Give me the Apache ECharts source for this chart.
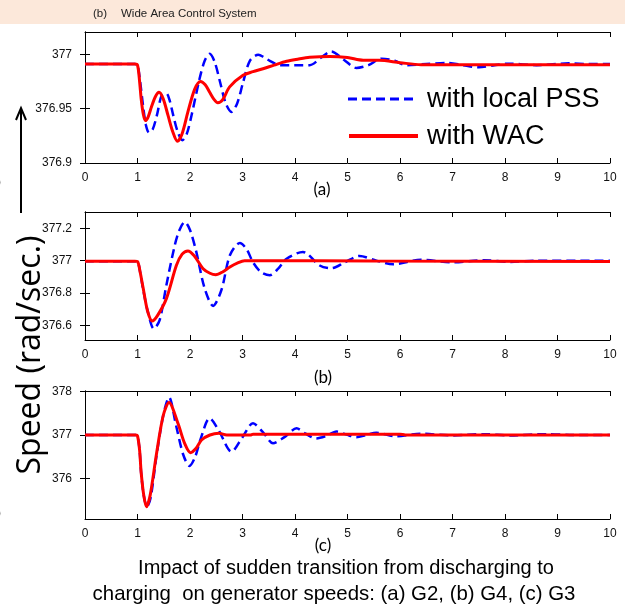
<!DOCTYPE html>
<html><head><meta charset="utf-8">
<script src="https://cdn.jsdelivr.net/npm/echarts@6/dist/echarts.min.js"></script>
<style>html,body{margin:0;padding:0;background:#fff}#c{width:625px;height:613px}</style>
</head><body><div id="c"></div><script>
// ---- tick labels ----
const xTicks = [0,1,2,3,4,5,6,7,8,9,10];
const yTicksA = [376.9, 376.95, 377];
const yTicksB = [376.6, 376.8, 377, 377.2];
const yTicksC = [376, 377, 378];
const seriesNames = ['with local PSS', 'with WAC'];
const panelLabels = ['(a)', '(b)', '(c)'];

// ---- panel (a) G2 ----
const tA_PSS = [0,0.95,1.0,1.05,1.105,1.16,1.22,1.29,1.37,1.46,1.55,1.61,1.68,1.77,1.855,1.94,2.03,2.18,2.28,2.375,2.47,2.57,2.68,2.79,2.9,3.01,3.14,3.3,3.42,3.52,3.71,4.0,4.28,4.5,4.69,4.93,5.17,5.4,5.65,5.9,6.12,6.5,6.9,7.2,7.5,7.8,8.08,8.6,9.22,9.6,10];
const vA_PSS = [376.991,376.991,376.990,376.975,376.953,376.935,376.928,376.931,376.944,376.962,376.964,376.958,376.944,376.928,376.921,376.927,376.944,376.977,376.994,377.0005,376.993,376.975,376.955,376.947,376.955,376.974,376.994,376.9996,376.997,376.994,376.990,376.990,376.990,376.997,377.0027,376.995,376.9874,376.990,376.996,376.994,376.990,376.991,376.992,376.990,376.988,376.990,376.9914,376.990,376.9917,376.991,376.991];
const tA_WAC = [0,0.95,1.0,1.04,1.07,1.11,1.15,1.2,1.265,1.34,1.41,1.49,1.58,1.67,1.76,1.85,1.96,2.09,2.2,2.29,2.375,2.45,2.53,2.62,2.755,3.01,3.2,3.39,3.6,3.84,4.05,4.28,4.66,5.0,5.3,5.6,6.0,6.4,10];
const vA_WAC = [376.991,376.991,376.990,376.975,376.959,376.945,376.939,376.942,376.9515,376.961,376.965,376.959,376.944,376.929,376.920,376.927,376.947,376.968,376.975,376.972,376.965,376.959,376.9554,376.958,376.970,376.9807,376.984,376.9867,376.990,376.9936,376.9955,376.9972,376.998,376.997,376.9945,376.9945,376.9923,376.9904,376.9904];

// ---- panel (b) G4 ----
const tB_PSS = [0,0.95,1.0,1.05,1.105,1.2,1.31,1.42,1.55,1.71,1.80,1.90,2.0,2.12,2.28,2.44,2.6,2.76,2.95,3.08,3.2,3.35,3.52,3.68,3.84,4.15,4.47,4.69,4.95,5.23,5.55,5.87,6.4,7.0,7.6,8.1,8.6,10];
const vB_PSS = [376.997,376.997,376.995,376.93,376.827,376.68,376.579,376.63,376.848,377.095,377.19,377.239,377.19,377.054,376.827,376.72,376.82,377.033,377.109,377.07,376.99,376.93,376.91,376.95,377.012,377.054,376.97,376.953,376.99,377.029,377.0,376.978,377.005,376.99,377.003,376.992,377.0,377.0];
const tB_WAC = [0,0.95,1.0,1.05,1.105,1.19,1.28,1.38,1.55,1.74,1.85,1.96,2.08,2.25,2.38,2.49,2.62,2.76,2.9,3.04,3.2,5.5,10];
const vB_WAC = [376.997,376.997,376.995,376.93,376.835,376.69,376.627,376.66,376.765,376.97,377.04,377.06,377.03,376.95,376.922,376.913,376.93,376.961,376.985,377.0,377.0,376.998,376.995];

// ---- panel (c) G3 ----
const tC_PSS = [0,0.97,1.0,1.04,1.07,1.12,1.18,1.25,1.36,1.49,1.6,1.74,1.87,1.99,2.1,2.2,2.375,2.55,2.79,3.0,3.2,3.4,3.58,3.8,4.03,4.2,4.4,4.6,4.79,4.98,5.17,5.36,5.55,5.92,6.4,7.0,7.6,8.1,8.8,9.3,10];
const vC_PSS = [377.0,377.0,376.98,376.65,376.115,375.6,375.344,375.55,376.5,377.45,377.87,377.19,376.55,376.284,376.5,376.9,377.385,377.1,376.615,376.95,377.27,377.05,376.81,376.95,377.154,377.03,376.92,376.98,377.08,377.01,376.95,377.0,377.05,376.97,377.03,376.99,377.02,376.99,377.02,377.0,377.0];
const tC_WAC = [0,0.97,1.0,1.04,1.07,1.12,1.17,1.24,1.36,1.49,1.6,1.77,1.9,2.01,2.12,2.22,2.38,2.55,2.7,3.15,3.2,6.0,6.1,10];
const vC_WAC = [377.0,377.0,376.98,376.65,376.13,375.6,375.344,375.6,376.55,377.45,377.75,377.27,376.8,376.592,376.7,376.885,377.0,377.04,377.0,377.0,377.02,377.02,377.0,377.0];

const zip = (t, v) => t.map((x, i) => [x, v[i]]);

const panels = [
  {top: 32, height: 131, ymin: 376.9, ymax: 377.0205, ticks: yTicksA, pss: zip(tA_PSS, vA_PSS), wac: zip(tA_WAC, vA_WAC)},
  {top: 212, height: 128, ymin: 376.509, ymax: 377.301, ticks: yTicksB, pss: zip(tB_PSS, vB_PSS), wac: zip(tB_WAC, vB_WAC)},
  {top: 391, height: 128, ymin: 375.06, ymax: 378.016, ticks: yTicksC, pss: zip(tC_PSS, vC_PSS), wac: zip(tC_WAC, vC_WAC)}
];

const FONT = 'Liberation Sans, Arial, sans-serif';
const BLUE = '#0000ff', RED = '#ff0000';
const grid = [], xAxis = [], yAxis = [], series = [];
const lineAx = {show: true, lineStyle: {color: '#000', width: 1}};
panels.forEach((p, i) => {
  grid.push({left: 85, width: 525, top: p.top, height: p.height, containLabel: false});
  const xb = {type: 'value', gridIndex: i, min: 0, max: 10, interval: 1, position: 'bottom',
    axisLine: lineAx, splitLine: {show: false},
    axisTick: {show: true, inside: true, length: 5, lineStyle: {color: '#000'}},
    axisLabel: {show: true, margin: 9, color: '#111', fontSize: 12, fontFamily: FONT,
      customValues: xTicks, formatter: v => String(v)}};
  xAxis.push(xb);
  xAxis.push(Object.assign({}, xb, {position: 'top', axisLabel: {show: false}}));
  const yl = {type: 'value', gridIndex: i, min: p.ymin, max: p.ymax, position: 'left',
    axisLine: lineAx, splitLine: {show: false},
    axisTick: {show: true, inside: true, length: 5, lineStyle: {color: '#000'}, customValues: p.ticks},
    axisLabel: {show: true, margin: 13, color: '#111', fontSize: 12, fontFamily: FONT,
      customValues: p.ticks, formatter: v => String(v)}};
  yAxis.push(yl);
  yAxis.push(Object.assign({}, yl, {position: 'right', axisLabel: {show: false}}));
  series.push({name: seriesNames[0], type: 'line', xAxisIndex: 2*i, yAxisIndex: 2*i, data: p.pss,
    smooth: 0.3, symbol: 'none', showSymbol: false, z: 3,
    lineStyle: {color: BLUE, width: 2.5, type: [9, 5]}, itemStyle: {color: BLUE}});
  series.push({name: seriesNames[1], type: 'line', xAxisIndex: 2*i, yAxisIndex: 2*i, data: p.wac,
    smooth: 0.3, symbol: 'none', showSymbol: false, z: 4,
    lineStyle: {color: RED, width: 3, type: 'solid'}, itemStyle: {color: RED}});
});

const chart = echarts.init(document.getElementById('c'), null, {renderer: 'canvas'});
chart.setOption({
  animation: false,
  backgroundColor: '#fff',
  grid, xAxis, yAxis, series,
  graphic: [
    {type: 'rect', shape: {x: 0, y: 0, width: 625, height: 24}, style: {fill: '#fce8da'}, z: -1},
    {type: 'text', x: 93, y: 14, style: {text: '(b)', font: '11.5px ' + FONT, fill: '#222', textVerticalAlign: 'middle'}},
    {type: 'text', x: 121, y: 14, style: {text: 'Wide Area Control System', font: '11.5px ' + FONT, fill: '#222', textVerticalAlign: 'middle'}},
    // legend (panel a)
    {type: 'line', shape: {x1: 348, y1: 99, x2: 416, y2: 99}, style: {stroke: BLUE, lineWidth: 3, lineDash: [9, 5]}, z: 10},
    {type: 'text', x: 427, y: 100, style: {text: seriesNames[0], font: '27px ' + FONT, fill: '#000', textVerticalAlign: 'middle'}, z: 10},
    {type: 'line', shape: {x1: 349, y1: 136, x2: 418, y2: 136}, style: {stroke: RED, lineWidth: 4}, z: 10},
    {type: 'text', x: 427, y: 137, style: {text: seriesNames[1], font: '27px ' + FONT, fill: '#000', textVerticalAlign: 'middle'}, z: 10},
    // arrow & axis title
    {type: 'polyline', shape: {points: [[21, 213], [21, 109]]}, style: {stroke: '#000', lineWidth: 2}},
    {type: 'polyline', shape: {points: [[16, 120], [21, 108], [26, 120]]}, style: {stroke: '#000', lineWidth: 2, fill: null}},
    {type: 'text', x: 31, y: 355, rotation: Math.PI / 2,
      style: {text: 'Speed (rad/sec.)', font: '32px "Open Sans", sans-serif', fill: '#000', textAlign: 'center', textVerticalAlign: 'middle'}},
    {type: 'text', x: -10, y: 182, style: {text: 'o', font: '20px ' + FONT, fill: '#000', textVerticalAlign: 'middle'}},
    {type: 'text', x: -10, y: 513, style: {text: 'o', font: '20px ' + FONT, fill: '#000', textVerticalAlign: 'middle'}},
    // panel labels
    {type: 'text', x: 322, y: 190, style: {text: panelLabels[0], font: '17px Lato, sans-serif', fill: '#000', textAlign: 'center', textVerticalAlign: 'middle'}},
    {type: 'text', x: 323, y: 378, style: {text: panelLabels[1], font: '17px Lato, sans-serif', fill: '#000', textAlign: 'center', textVerticalAlign: 'middle'}},
    {type: 'text', x: 323, y: 546, style: {text: panelLabels[2], font: '17px Lato, sans-serif', fill: '#000', textAlign: 'center', textVerticalAlign: 'middle'}},
    // caption
    {type: 'text', x: 346, y: 568, style: {text: 'Impact of sudden transition from discharging to', font: '20px ' + FONT, fill: '#000', textAlign: 'center', textVerticalAlign: 'middle'}},
    {type: 'text', x: 334, y: 594, style: {text: 'charging  on generator speeds: (a) G2, (b) G4, (c) G3', font: '20.4px ' + FONT, fill: '#000', textAlign: 'center', textVerticalAlign: 'middle'}}
  ]
});
</script></body></html>
